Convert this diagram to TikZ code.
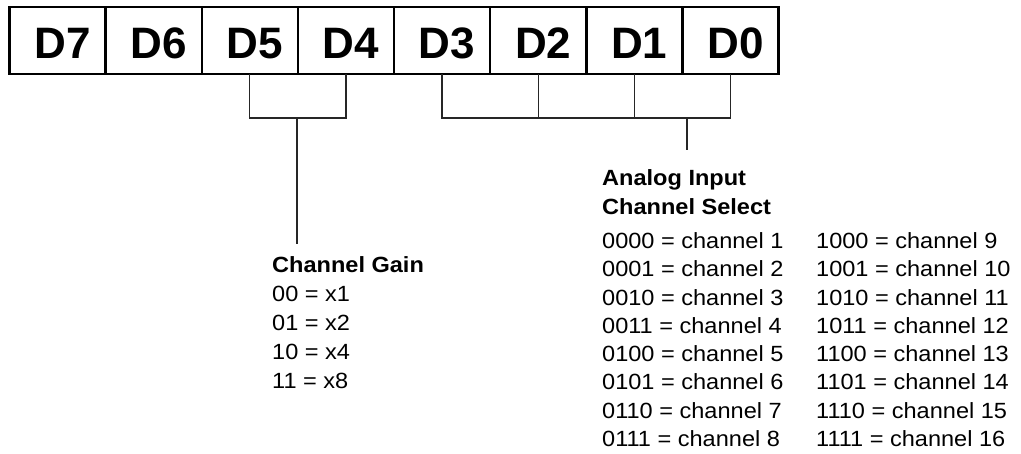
\documentclass[tikz,border=0pt]{standalone}
\usepackage{fontspec}
\setmainfont{Liberation Sans}
\newfontfamily\listfont[FakeStretch=1.07]{Liberation Sans}
\begin{document}
\begin{tikzpicture}[x=1pt,y=-1pt,
  bitbox/.style={draw, line width=2.5pt, outer sep=0pt, inner sep=0pt,
    minimum width=96.125pt, minimum height=67pt,
    font=\fontsize{44}{44}\selectfont\bfseries, text height=36.5pt, text depth=0pt},
  wire/.style={line width=1.2pt, black!85},
  head/.style={anchor=base west, inner sep=0pt, font=\listfont\fontsize{22}{28}\selectfont\bfseries},
  entry/.style={anchor=base west, inner sep=0pt, font=\listfont\fontsize{22}{28}\selectfont}]
\useasboundingbox (0,0) rectangle (1021,454);

% register bits D7 ... D0
\foreach \i/\n in {0/7,1/6,2/5,3/4,4/3,5/2,6/1,7/0}
  \node[bitbox] (b\n) at ({9.5+96.125*(\i+0.5)},40.5) {\hspace*{10pt}D\n};

% gain bracket (D5, D4)
\coordinate (gj) at (297,118);
\coordinate (gend) at (297,244);
\draw[wire] (b5.south) -- (b5.south |- gj) -- (b4.south |- gj) -- (b4.south);
\draw[wire] (gj) -- (gend);

% channel bracket (D3 ... D0)
\coordinate (cj) at (687,118);
\coordinate (cend) at (687,150);
\draw[wire] (b3.south) -- (b3.south |- cj) -- (b0.south |- cj) -- (b0.south);
\draw[wire] (b2.south) -- (b2.south |- cj);
\draw[wire] (b1.south) -- (b1.south |- cj);
\draw[wire] (cj) -- (cend);

% channel gain table
\node[head] (cg) at (272,273) {Channel Gain};
\foreach \k/\code/\g in {0/00/1,1/01/2,2/10/4,3/11/8}
  \node[entry] (g\k) at (272,{302+28.7*\k}) {\code\ = x\g};

% channel select table
\node[head] (ai) at (602,186) {Analog Input};
\node[head] (cs) at (602,215) {Channel Select};
\foreach \k/\code/\ch in {0/0000/1,1/0001/2,2/0010/3,3/0011/4,4/0100/5,5/0101/6,6/0110/7,7/0111/8}
  \node[entry] (lo\k) at (602,{248.5+28.3*\k}) {\code\ = channel \ch};
\foreach \k/\code/\ch in {0/1000/9,1/1001/10,2/1010/11,3/1011/12,4/1100/13,5/1101/14,6/1110/15,7/1111/16}
  \node[entry] (hi\k) at (816,{248.5+28.3*\k}) {\code\ = channel \ch};
\end{tikzpicture}
\end{document}
